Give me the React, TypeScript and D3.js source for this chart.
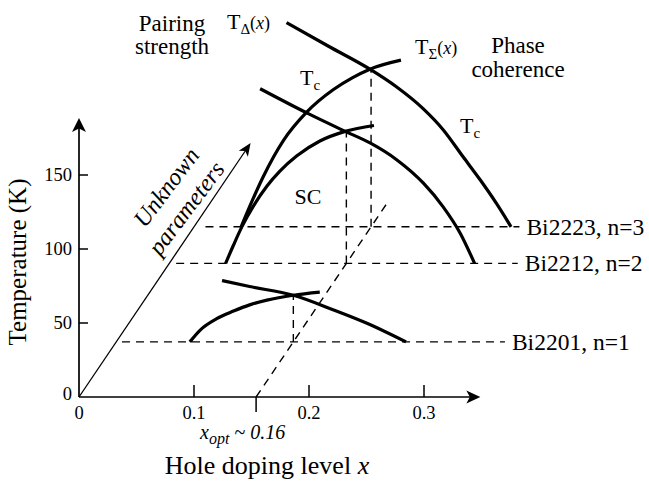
import React from "react";
import * as d3 from "d3";

// axis ticks
const xTicks = [0, 0.1, 0.2, 0.3];
const xTickLabels = ["0", "0.1", "0.2", "0.3"];
const yTicks = [0, 50, 100, 150];
const yTickLabels = ["0", "50", "100", "150"];

// axis extents (data units), the third axis is "unknown parameters" (0..1)
const xAxisEnd = 0.349;
const yAxisEnd = 188.5;
const depthAxisEnd = 1;

// optimal doping and how far its dashed guide runs along the depth axis
const xOpt = 0.154;
const optLineDepth = 0.769;

// one plane per compound
const compounds = ["Bi2201, n=1", "Bi2212, n=2", "Bi2223, n=3"];
const depths = [0.217, 0.526, 0.67];
const baseStart = [0.005, 0.006, 0.01];
const baseEnd = [0.338, 0.303, 0.283];
const tcMax = [31.5, 89, 106.5];

// T_Sigma(x): phase coherence, [x, T in K]
const sigma2201 = [[0.064, 0], [0.073, 8], [0.087, 15.5], [0.102, 20.8], [0.116, 25], [0.131, 28.2], [0.154, 31.5], [0.177, 33.6]];
const sigma2212 = [[0.049, 0], [0.056, 12.6], [0.063, 24.5], [0.073, 38.5], [0.085, 52.3], [0.096, 62.2], [0.111, 72.7], [0.131, 82.7], [0.153, 89.2], [0.178, 93.2]];
const sigma2223 = [[0.041, 0], [0.05, 16.5], [0.06, 33.5], [0.078, 58.6], [0.098, 77.5], [0.121, 92.6], [0.138, 100.8], [0.153, 106.5], [0.18, 112.6]];

// T_Delta(x): pairing strength, [x, T in K]
const delta2201 = [[0.092, 41.4], [0.116, 37.4], [0.154, 31.5], [0.189, 21.6], [0.218, 12.6], [0.252, 0]];
const delta2212 = [[0.079, 118], [0.12, 101.5], [0.153, 89.2], [0.175, 81.2], [0.198, 69.9], [0.221, 54.2], [0.238, 38.4], [0.253, 20.4], [0.2655, 0]];
const delta2223 = [[0.0805, 138], [0.117, 122], [0.153, 106.5], [0.176, 94.6], [0.199, 80], [0.217, 65.3], [0.234, 47.3], [0.249, 31.6], [0.263, 15.8], [0.2757, 0]];

const sigmaCurves = [sigma2201, sigma2212, sigma2223];
const deltaCurves = [delta2201, delta2212, delta2223];

const FONT = '"Liberation Serif", "Times New Roman", "DejaVu Serif", serif';

// filled arrow head with a small notch at the back
function arrowHead(tip: number[], from: number[], len: number, half: number) {
  const a = Math.atan2(tip[1] - from[1], tip[0] - from[0]);
  const c = Math.cos(a), s = Math.sin(a);
  const bx = tip[0] - len * c, by = tip[1] - len * s;
  const nx = tip[0] - len * 0.75 * c, ny = tip[1] - len * 0.75 * s;
  return `M${tip[0]},${tip[1]}L${bx - s * half},${by + c * half}L${nx},${ny}L${bx + s * half},${by - c * half}Z`;
}

export default function App() {
  const width = 649, height = 481;

  const x = d3.scaleLinear().domain([0, 0.35]).range([79, 481.5]);
  const y = d3.scaleLinear().domain([0, 150]).range([397, 175]);
  // projection of the depth axis onto the page
  const depthX = d3.scaleLinear().domain([0, 1]).range([0, 171.6]);
  const depthY = d3.scaleLinear().domain([0, 1]).range([0, 254]);

  const proj = (xv: number, tv: number, d: number) => [x(xv) + depthX(d), y(tv) - depthY(d)];

  const curve = (pts: number[][], d: number) =>
    d3.line().curve(d3.curveMonotoneX)(pts.map(p => proj(p[0], p[1], d)) as [number, number][]) || "";

  const origin = proj(0, 0, 0);
  const xTip = proj(xAxisEnd, 0, 0);
  const yTip = proj(0, yAxisEnd, 0);
  const dTip = proj(0, 0, depthAxisEnd);

  const optFrom = proj(xOpt, 0, 0);
  const optTo = proj(xOpt, 0, optLineDepth);

  const dash = "8,6";

  return (
    <svg width={width} height={height}
      style={{ position: "absolute", left: 0, top: 0, background: "#fff", fontFamily: FONT }}>
      {/* dashed baselines for each compound */}
      {compounds.map((c, i) => {
        const a = proj(baseStart[i], 0, depths[i]);
        const b = proj(baseEnd[i], 0, depths[i]);
        return (
          <g key={c}>
            <line x1={a[0]} y1={a[1]} x2={b[0]} y2={b[1]} stroke="#000" strokeWidth={1.4} strokeDasharray={dash} />
            <text x={b[0] + 7} y={b[1]} dy="0.33em" fontSize={23.5}>{c}</text>
          </g>
        );
      })}

      {/* vertical guides at x_opt */}
      {depths.map((d, i) => {
        const a = proj(xOpt, 0, d);
        const b = proj(xOpt, tcMax[i], d);
        return <line key={i} x1={a[0]} y1={a[1]} x2={b[0]} y2={b[1]} stroke="#000" strokeWidth={1.4} strokeDasharray={dash} />;
      })}

      {/* x_opt guide along the depth direction */}
      <line x1={optFrom[0]} y1={optFrom[1]} x2={optTo[0]} y2={optTo[1]} stroke="#000" strokeWidth={1.4} strokeDasharray={dash} />

      {/* phase coherence and pairing curves */}
      {sigmaCurves.map((pts, i) => (
        <path key={"s" + i} d={curve(pts, depths[i])} fill="none" stroke="#000" strokeWidth={3.2} />
      ))}
      {deltaCurves.map((pts, i) => (
        <path key={"d" + i} d={curve(pts, depths[i])} fill="none" stroke="#000" strokeWidth={3.2} />
      ))}

      {/* axes */}
      <line x1={origin[0]} y1={origin[1]} x2={xTip[0] - 8} y2={xTip[1]} stroke="#000" strokeWidth={1.7} />
      <path d={arrowHead(xTip, origin, 14, 6.5)} fill="#000" />
      <line x1={origin[0]} y1={origin[1]} x2={yTip[0]} y2={yTip[1] + 8} stroke="#000" strokeWidth={1.7} />
      <path d={arrowHead(yTip, origin, 14, 7)} fill="#000" />
      <line x1={origin[0]} y1={origin[1]} x2={dTip[0] - 4} y2={dTip[1] + 6} stroke="#000" strokeWidth={1.3} />
      <path d={arrowHead(dTip, origin, 13, 5.5)} fill="#000" />

      {xTicks.filter(t => t > 0).map(t => (
        <line key={t} x1={x(t)} y1={y(0)} x2={x(t)} y2={y(0) - 12} stroke="#000" strokeWidth={1.5} />
      ))}
      <line x1={x(xOpt)} y1={y(0)} x2={x(xOpt)} y2={y(0) + 15} stroke="#000" strokeWidth={1.5} />
      {xTicks.map((t, i) => (
        <text key={t} x={x(t)} y={y(0) + 22} textAnchor="middle" fontSize={18.5}>{xTickLabels[i]}</text>
      ))}
      {yTicks.filter(t => t > 0).map(t => (
        <line key={t} x1={x(0)} y1={y(t)} x2={x(0) + 9} y2={y(t)} stroke="#000" strokeWidth={1.5} />
      ))}
      {yTicks.map((t, i) => (
        <text key={t} x={x(0) - 7} y={y(t) + 6} dy={t === 0 ? -3 : 0} textAnchor="end" fontSize={18.5}>{yTickLabels[i]}</text>
      ))}

      {/* axis titles */}
      <text transform="translate(26,262) rotate(-90)" textAnchor="middle" fontSize={25}>Temperature (K)</text>
      <text x={267} y={474} textAnchor="middle" fontSize={26}>
        Hole doping level <tspan fontStyle="italic">x</tspan>
      </text>
      <text x={200} y={439} fontSize={20} fontStyle="italic">
        x<tspan fontSize={16} dy={5}>opt</tspan><tspan dy={-5}> ~ 0.16</tspan>
      </text>
      <g fontStyle="italic" fontSize={24}>
        <text transform="translate(166,187) rotate(-53)" textAnchor="middle" dy="0.35em">Unknown</text>
        <text transform="translate(186,208) rotate(-53)" textAnchor="middle" dy="0.35em">parameters</text>
      </g>

      {/* annotations */}
      <text x={172} y={31} textAnchor="middle" fontSize={23}>Pairing</text>
      <text x={172} y={54} textAnchor="middle" fontSize={23}>strength</text>
      <text x={227} y={29} fontSize={22}>
        T<tspan fontSize={15} dy={5}>Δ</tspan><tspan dy={-5} fontSize={18}>(<tspan fontStyle="italic">x</tspan>)</tspan>
      </text>
      <text x={415} y={54} fontSize={22}>
        T<tspan fontSize={15} dy={5}>Σ</tspan><tspan dy={-5} fontSize={18}>(<tspan fontStyle="italic">x</tspan>)</tspan>
      </text>
      <text x={518} y={53} textAnchor="middle" fontSize={23}>Phase</text>
      <text x={518} y={77} textAnchor="middle" fontSize={23}>coherence</text>
      <text x={300} y={85} fontSize={22}>T<tspan fontSize={15} dy={5}>c</tspan></text>
      <text x={460} y={133} fontSize={22}>T<tspan fontSize={15} dy={5}>c</tspan></text>
      <text x={308} y={204} textAnchor="middle" fontSize={22}>SC</text>
    </svg>
  );
}
